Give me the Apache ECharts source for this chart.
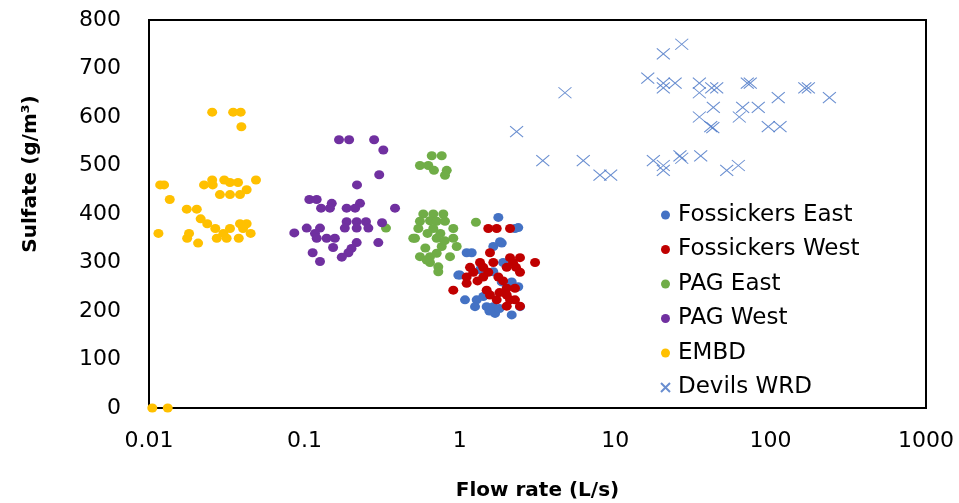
<!DOCTYPE html>
<html>
<head>
<meta charset="utf-8">
<title>Sulfate vs flow rate</title>
<script src="https://cdn.jsdelivr.net/npm/echarts@6/dist/echarts.min.js"></script>
<style>
  html, body { margin: 0; padding: 0; background: #fff; }
  #main { width: 959px; height: 503px; }
</style>
</head>
<body>
<div id="main"></div>
<script>
// [flow rate (L/s), sulfate (g/m3)]
var fossEast = [[1.77,393],[2.265,370],[2.378,372],[1.862,340],[1.815,343],[1.643,333],[1.107,320],[1.193,320],
  [1.003,274],[0.978,274],[1.643,281],[1.35,285],[1.862,260],[2.158,260],[2.378,250],[1.9,300],
  [1.08,223],[1.284,223],[1.416,230],[1.253,209],[1.489,209],[1.643,209],[1.686,195],[2.158,192],
  [2.44,209],[1.55,200],[1.8,205]];
var fossWest = [[1.525,370],[1.728,370],[2.105,370],[1.564,320],[2.105,310],[2.44,310],[3.05,300],[1.349,300],
  [1.643,300],[1.163,290],[1.416,290],[2.004,290],[2.44,280],[1.222,280],[1.525,280],[1.107,270],
  [1.416,270],[1.77,270],[1.107,257],[0.908,243],[1.489,243],[2.004,247],[2.265,247],[1.564,233],
  [2.004,233],[1.728,223],[2.105,223],[2.265,223],[2.004,210],[2.44,210],[1.3,262],[1.9,262],
  [2.2,300],[1.8,238],[2.3,290]];
var pagEast = [[0.66,520],[0.765,520],[0.554,500],[0.627,500],[0.682,490],[0.824,490],[0.803,480],
  [0.582,400],[0.675,400],[0.783,400],[0.554,385],[0.643,386],[0.710,385],[0.803,385],[1.27,383],
  [0.541,370],[0.675,370],[0.908,370],[0.515,350],[0.710,350],[0.908,350],[0.765,333],[0.955,333],
  [0.554,312],[0.643,312],[0.710,319],[0.865,312],[0.643,300],[0.727,291],[0.727,281],[0.335,371],
  [0.502,350],[0.612,305],[0.62,360],[0.75,360],[0.60,330],[0.8,345]];
var pagWest = [[0.167,553],[0.194,553],[0.281,553],[0.322,532],[0.303,481],[0.218,460],[0.1076,430],[0.120,430],
  [0.150,422],[0.228,422],[0.128,412],[0.146,412],[0.187,412],[0.212,412],[0.383,412],[0.187,384],
  [0.217,384],[0.249,384],[0.316,382],[0.182,371],[0.217,371],[0.258,371],[0.1035,371],[0.126,371],
  [0.0861,361],[0.117,360],[0.120,350],[0.139,350],[0.157,350],[0.217,341],[0.299,341],[0.153,331],
  [0.201,329],[0.113,320],[0.192,320],[0.174,311],[0.126,302]];
var embd = [[0.0255,610],[0.0348,610],[0.0389,610],[0.0393,580],[0.0118,460],[0.0125,460],
  [0.0255,470],[0.0305,470],[0.0226,460],[0.0257,460],[0.0332,465],[0.0374,465],[0.0488,470],
  [0.0425,450],[0.0286,440],[0.0332,440],[0.0385,440],[0.0136,430],[0.0175,410],[0.0203,410],
  [0.0215,390],[0.0237,380],[0.0267,370],[0.0332,370],[0.0385,380],[0.0425,380],[0.0403,370],
  [0.0451,360],[0.0115,360],[0.0181,360],[0.0176,350],[0.0207,340],[0.0273,350],[0.0316,350],
  [0.0301,360],[0.0378,350],[0.0105,0],[0.0132,0]];
var devilsWrd = [[26.8,750],[20.4,730],[16.2,680],[20.4,670],[24.3,670],[20.4,660],[34.8,670],[34.8,650],
  [41.8,660],[45.0,660],[42.8,620],[34.8,600],[41.2,580],[42.5,578],[4.75,650],[2.32,570],[3.42,510],
  [6.23,510],[7.98,480],[9.35,480],[17.6,510],[20.4,500],[20.4,490],[26.1,520],[26.8,515],[35.5,520],
  [70.8,670],[74,670],[66.1,620],[83.3,620],[62.9,600],[112,640],[166,660],[175,660],[239,640],
  [96.6,580],[115,580],[52.2,490],[62.0,500]];

var xTickLabels = ['0.01', '0.1', '1', '10', '100', '1000'];
var yTickLabels = ['0', '100', '200', '300', '400', '500', '600', '700', '800'];

var crossPath = 'path://M0,0L10,10M10,0L0,10';
var font = 'DejaVu Sans';

function dots(name, data, color) {
  return {
    name: name,
    type: 'scatter',
    data: data,
    symbol: 'circle',
    symbolSize: [10, 9],
    clip: false,
    itemStyle: { color: color, opacity: 1 }
  };
}

var option = {
  animation: false,
  backgroundColor: '#fff',
  grid: {
    left: 149, right: 33, top: 20, bottom: 95,
    outerBoundsMode: 'none',
    show: true, borderColor: '#000', borderWidth: 2, backgroundColor: 'transparent'
  },
  legend: {
    orient: 'vertical',
    left: 655,
    top: 198,
    itemWidth: 9,
    itemHeight: 9,
    itemGap: 10.5,
    textStyle: { fontFamily: font, fontSize: 23, color: '#000', lineHeight: 24, padding: [0, 0, 0, 3] },
    data: [
      { name: 'Fossickers East', icon: 'circle' },
      { name: 'Fossickers West', icon: 'circle' },
      { name: 'PAG East', icon: 'circle' },
      { name: 'PAG West', icon: 'circle' },
      { name: 'EMBD', icon: 'circle' },
      { name: 'Devils WRD', icon: crossPath }
    ]
  },
  xAxis: {
    type: 'log',
    logBase: 10,
    min: 0.01,
    max: 1000,
    name: 'Flow rate (L/s)',
    nameLocation: 'middle',
    nameGap: 73,
    nameTextStyle: { fontFamily: font, fontSize: 20, fontWeight: 'bold', color: '#000' },
    axisLine: { show: true, lineStyle: { color: '#000', width: 2 } },
    axisTick: { show: false },
    splitLine: { show: false },
    minorTick: { show: false },
    axisLabel: {
      margin: 22,
      fontFamily: font,
      fontSize: 22,
      color: '#000',
      formatter: function (v) { return xTickLabels[Math.round(Math.log10(v)) + 2]; }
    }
  },
  yAxis: {
    type: 'value',
    min: 0,
    max: 800,
    interval: 100,
    name: 'Sulfate (g/m³)',
    nameLocation: 'middle',
    nameGap: 108,
    nameTextStyle: { fontFamily: font, fontSize: 20, fontWeight: 'bold', color: '#000', padding: [0, 0, 0, 80] },
    axisLine: { show: true, lineStyle: { color: '#000', width: 2 } },
    axisTick: { show: false },
    splitLine: { show: false },
    axisLabel: {
      margin: 28,
      fontFamily: font,
      fontSize: 22,
      color: '#000',
      formatter: function (v) { return yTickLabels[Math.round(v / 100)]; }
    }
  },
  series: [
    dots('Fossickers East', fossEast, '#4472C4'),
    dots('Fossickers West', fossWest, '#C00000'),
    dots('PAG East', pagEast, '#70AD47'),
    dots('PAG West', pagWest, '#7030A0'),
    dots('EMBD', embd, '#FFC000'),
    {
      name: 'Devils WRD',
      type: 'scatter',
      data: devilsWrd,
      symbol: crossPath,
      symbolSize: [13, 11],
      itemStyle: { color: 'rgba(0,0,0,0)', borderColor: '#4472C4', borderWidth: 1 }
    }
  ]
};

var myChart = echarts.init(document.getElementById('main'));
myChart.setOption(option);
</script>
</body>
</html>
